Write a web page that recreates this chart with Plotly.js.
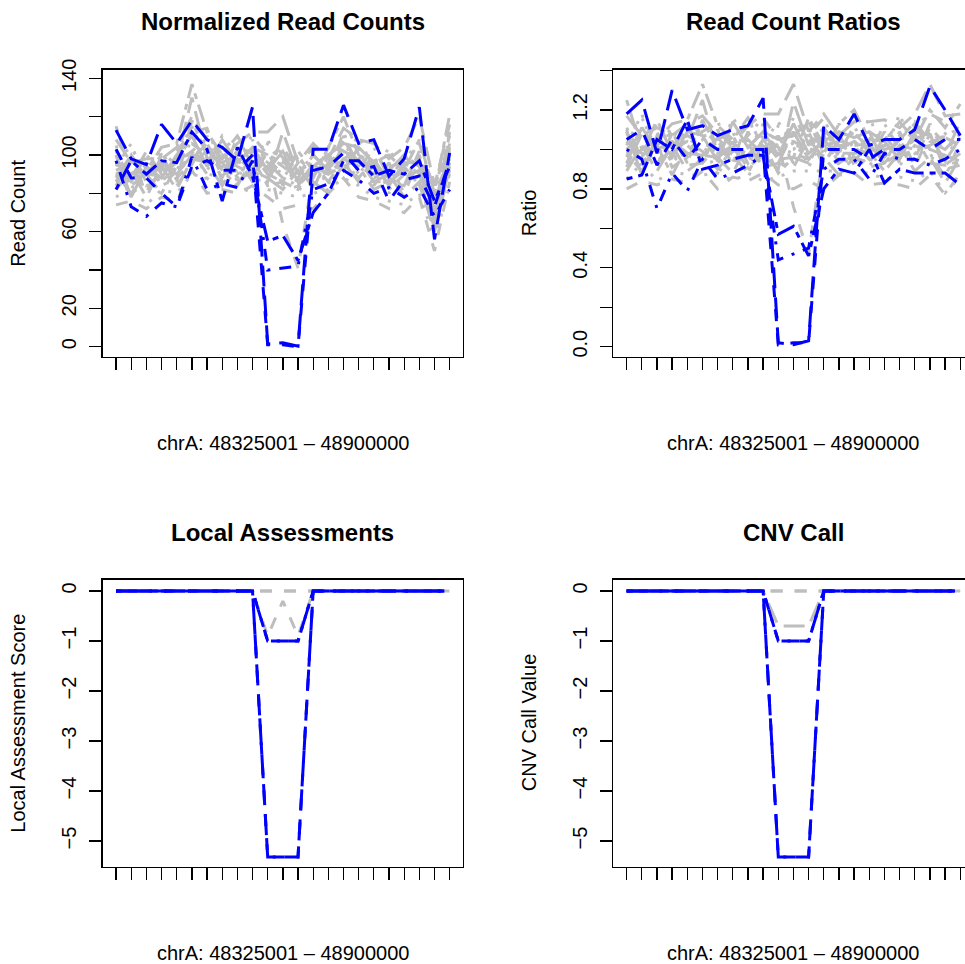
<!DOCTYPE html>
<html>
<head>
<meta charset="utf-8">
<script src="https://cdn.plot.ly/plotly-3.0.1.min.js"></script>
<style>
html,body{margin:0;padding:0;overflow:hidden;background:#fff;}
#plot{width:1000px;height:964px;}
</style>
</head>
<body>
<div id="plot"></div>
<script>
// ---------------- DATA ----------------
const BINS = [1,2,3,4,5,6,7,8,9,10,11,12,13,14,15,16,17,18,19,20,21,22,23];
const REGION_LABEL = "chrA: 48325001 \u2013 48900000";

// Normalized read counts, reference samples (grey)
const REF_COUNTS = [
  [105,82,96,85,100,115,92,104,86,108,90,100,80,96,84,110,90,100,80,96,84,78,108],
  [84,98,80,100,84,95,110,86,104,88,102,84,96,82,100,92,104,84,96,80,98,64,90],
  [96,88,102,90,96,130,98,96,100,92,86,112,90,100,92,104,96,90,92,100,90,70,112],
  [88,100,86,96,90,100,104,90,92,102,96,88,84,92,96,96,88,98,86,84,100,74,96],
  [115,90,92,104,106,137,112,100,110,96,100,96,100,88,104,120,100,96,100,92,108,80,121],
  [78,84,74,82,80,90,88,80,84,80,82,80,78,80,82,88,84,78,76,74,80,56,84],
  [92,96,88,94,98,106,100,98,94,90,98,64,41,90,94,102,98,92,90,88,92,76,100],
  [100,78,94,88,100,110,94,108,96,104,92,102,86,94,100,106,104,96,84,96,96,68,104],
  [82,92,78,94,82,98,96,84,98,86,88,82,92,86,80,96,86,86,90,78,86,60,94],
  [102,86,100,92,102,112,114,94,102,110,100,96,94,104,90,112,92,104,88,98,106,82,110],
  [90,80,90,80,94,98,106,92,84,98,84,86,82,96,86,98,94,82,86,94,84,66,92],
  [98,104,90,102,88,104,96,110,100,90,106,98,98,88,104,100,110,92,94,90,96,76,100],
  [74,76,72,78,76,92,80,82,80,84,78,72,74,72,80,88,78,76,72,70,78,50,86],
  [108,96,98,98,104,120,108,98,106,112,112,120,96,106,98,114,108,106,98,104,120,84,116],
  [94,106,84,88,92,108,86,100,90,98,108,92,86,98,88,92,100,90,104,86,92,78,98],
  [86,90,96,84,88,96,102,88,110,94,94,104,92,84,96,104,90,100,82,90,88,62,102],
  [100,84,90,100,86,118,100,102,88,100,90,86,102,92,90,98,102,88,92,100,94,72,106],
  [90,94,82,92,96,102,90,94,96,104,100,94,88,100,92,108,96,94,88,84,102,70,92],
  [96,86,94,86,94,112,104,90,92,96,96,90,94,90,98,100,86,98,94,96,90,74,100],
  [86,100,88,96,90,100,96,96,86,92,88,98,84,94,90,94,98,86,86,92,98,66,96]
];
// Normalized read counts, test samples (blue)
const TEST_COUNTS = [
  [113,98,95,116,106,118,108,104,97,125,1.5,2,0.3,103,103,126,106,108,89,98,125,56,101],
  [103,88,88,80,73,94,97,92,92,100,1,1,0,92,94,101,92,94,76,87,89,73,97],
  [97,73,68,75,73,99,82,85,83,97,40,41,42,82,85,92,87,80,83,78,83,68,82],
  [82,97,90,97,96,112,103,76,104,89,55,58,45,70,80,97,97,89,92,90,97,76,94]
];

// Read count ratios
const REF_RATIOS = [
  [1.10,0.90,1.08,0.93,1.08,1.10,0.92,1.09,0.90,1.13,0.94,1.10,0.91,1.06,0.92,1.10,0.95,1.08,0.91,1.08,0.93,1.08,1.10],
  [0.91,1.08,0.92,1.08,0.92,0.93,1.10,0.91,1.09,0.93,1.07,0.93,1.09,0.91,1.08,0.92,1.09,0.92,1.09,0.91,1.08,0.90,0.92],
  [1.04,0.98,1.15,0.98,1.05,1.25,0.98,1.01,1.05,0.97,0.90,1.24,1.02,1.11,1.00,1.04,1.01,0.98,1.05,1.13,1.00,0.97,1.14],
  [0.96,1.11,0.98,1.04,0.98,0.97,1.04,0.95,0.97,1.07,1.01,0.98,0.95,1.02,1.04,0.96,0.93,1.07,0.98,0.95,1.11,1.03,0.98],
  [1.25,1.00,1.05,1.13,1.15,1.33,1.12,1.05,1.16,1.01,1.05,1.07,1.14,0.98,1.13,1.20,1.05,1.04,1.14,1.05,1.20,1.11,1.23],
  [0.85,0.93,0.84,0.89,0.87,0.87,0.88,0.84,0.88,0.84,0.86,0.89,0.89,0.89,0.89,0.88,0.88,0.85,0.86,0.84,0.89,0.78,0.86],
  [1.00,1.07,1.00,1.02,1.07,1.03,1.00,1.03,0.99,0.95,1.03,0.71,0.47,1.00,1.02,1.02,1.03,1.00,1.02,1.00,1.02,1.06,1.02],
  [1.09,0.87,1.07,0.96,1.09,1.07,0.94,1.14,1.01,1.09,0.97,1.13,0.98,1.04,1.09,1.06,1.09,1.04,0.95,1.09,1.07,0.94,1.06],
  [0.89,1.02,0.89,1.02,0.89,0.95,0.96,0.88,1.03,0.91,0.93,0.91,1.05,0.96,0.87,0.96,0.91,0.93,1.02,0.89,0.96,0.83,0.96],
  [1.11,0.96,1.14,1.00,1.11,1.09,1.14,0.99,1.07,1.16,1.05,1.07,1.07,1.16,0.98,1.12,0.97,1.13,1.00,1.11,1.18,1.14,1.12],
  [0.98,0.89,1.02,0.87,1.02,0.95,1.06,0.97,0.88,1.03,0.88,0.96,0.93,1.07,0.93,0.98,0.99,0.89,0.98,1.07,0.93,0.92,0.94],
  [1.07,1.16,1.02,1.11,0.96,1.01,0.96,1.16,1.05,0.95,1.12,1.09,1.11,0.98,1.13,1.00,1.16,1.00,1.07,1.02,1.07,1.06,1.02],
  [0.80,0.84,0.82,0.85,0.83,0.89,0.80,0.86,0.84,0.88,0.82,0.80,0.84,0.80,0.87,0.88,0.82,0.83,0.82,0.80,0.87,0.77,0.88],
  [1.17,1.07,1.11,1.07,1.13,1.17,1.08,1.03,1.12,1.18,1.18,1.33,1.09,1.18,1.07,1.14,1.14,1.15,1.11,1.18,1.33,1.17,1.18],
  [1.02,1.18,0.95,0.96,1.00,1.05,0.86,1.05,0.95,1.03,1.14,1.02,0.98,1.09,0.96,0.92,1.05,0.98,1.18,0.98,1.02,1.08,1.00],
  [0.93,1.00,1.09,0.91,0.96,0.93,1.02,0.93,1.16,0.99,0.99,1.16,1.05,0.93,1.04,1.04,0.95,1.09,0.93,1.02,0.98,0.86,1.04],
  [1.09,0.93,1.02,1.09,0.93,1.15,1.00,1.07,0.93,1.05,0.95,0.96,1.16,1.02,0.98,0.98,1.07,0.96,1.05,1.14,1.04,1.00,1.08],
  [0.98,1.04,0.93,1.00,1.04,0.99,0.90,0.99,1.01,1.09,1.05,1.04,1.00,1.11,1.00,1.08,1.01,1.02,1.00,0.95,1.13,0.97,0.94],
  [1.04,0.96,1.07,0.93,1.02,1.09,1.04,0.95,0.97,1.01,1.01,1.00,1.07,1.00,1.07,1.00,0.91,1.07,1.07,1.09,1.00,1.03,1.02],
  [0.93,1.11,1.00,1.04,0.98,0.97,0.96,1.01,0.91,0.97,0.93,1.09,0.95,1.04,0.98,0.94,1.03,0.93,0.98,1.05,1.09,0.92,0.98]
];
const TEST_RATIOS = [
  [1.18,1.25,0.98,1.30,1.10,1.12,1.07,1.10,1.12,1.26,0.02,0.01,0.03,1.12,1.05,1.18,1.02,1.05,1.05,1.10,1.32,1.20,1.07],
  [1.05,1.10,0.92,1.05,0.95,1.05,1.00,1.00,1.00,1.00,0.01,0.02,0.02,1.00,1.00,1.00,0.95,1.00,1.00,1.05,1.00,1.05,1.05],
  [1.00,0.95,0.70,0.88,0.79,0.95,0.85,0.88,0.92,0.97,0.44,0.47,0.50,0.90,0.95,0.95,0.85,0.98,0.95,0.95,0.92,0.95,1.00],
  [0.85,0.87,1.05,1.00,1.15,0.90,0.92,0.95,0.97,0.97,0.57,0.61,0.46,0.80,0.90,0.88,1.00,0.83,0.90,0.88,0.88,0.88,0.82]
];

// Local assessment scores
const REF_LA = [
  [0,0,0,0,0,0,0,0,0,0,0,0,0,0,0,0,0,0,0,0,0,0,0],
  [0,0,0,0,0,0,0,0,0,0,0,0,0,0,0,0,0,0,0,0,0,0,0],
  [0,0,0,0,0,0,0,0,0,0,-0.9,-0.2,-0.9,0,0,0,0,0,0,0,0,0,0]
];
const TEST_LA = [
  [0,0,0,0,0,0,0,0,0,0,-5.32,-5.32,-5.32,0,0,0,0,0,0,0,0,0,0],
  [0,0,0,0,0,0,0,0,0,0,-5.32,-5.32,-5.32,0,0,0,0,0,0,0,0,0,0],
  [0,0,0,0,0,0,0,0,0,0,-1,-1,-1,0,0,0,0,0,0,0,0,0,0],
  [0,0,0,0,0,0,0,0,0,0,-1,-1,-1,0,0,0,0,0,0,0,0,0,0]
];

// CNV call values
const REF_CNV = [
  [0,0,0,0,0,0,0,0,0,0,0,0,0,0,0,0,0,0,0,0,0,0,0],
  [0,0,0,0,0,0,0,0,0,0,0,0,0,0,0,0,0,0,0,0,0,0,0],
  [0,0,0,0,0,0,0,0,0,0,-0.7,-0.7,-0.7,0,0,0,0,0,0,0,0,0,0]
];
const TEST_CNV = [
  [0,0,0,0,0,0,0,0,0,0,-5.32,-5.32,-5.32,0,0,0,0,0,0,0,0,0,0],
  [0,0,0,0,0,0,0,0,0,0,-5.32,-5.32,-5.32,0,0,0,0,0,0,0,0,0,0],
  [0,0,0,0,0,0,0,0,0,0,-1,-1,-1,0,0,0,0,0,0,0,0,0,0],
  [0,0,0,0,0,0,0,0,0,0,-1,-1,-1,0,0,0,0,0,0,0,0,0,0]
];

const PANEL_TITLES = ["Normalized Read Counts","Read Count Ratios","Local Assessments","CNV Call"];
const Y_TITLES = ["Read Count","Ratio","Local Assessment Score","CNV Call Value"];
const COUNT_TICKS = [0,20,40,60,80,100,120,140];
const COUNT_TICKTEXT = ["0","20","","60","","100","","140"];
const RATIO_TICKS = [0,0.2,0.4,0.6,0.8,1.0,1.2,1.4];
const RATIO_TICKTEXT = ["0.0","","0.4","","0.8","","1.2",""];
const SCORE_TICKS = [0,-1,-2,-3,-4,-5];
const SCORE_TICKTEXT = ["0","\u22121","\u22122","\u22123","\u22124","\u22125"];

// ---------------- STYLE ----------------
const W = 1000, H = 964;
const GREY = "#BEBEBE", BLUE = "#0000FF";
const LW = 3;
// R-like line types scaled by line width
const LTY = ["solid","12px,12px","3px,9px","3px,9px,12px,9px","21px,9px","6px,6px,18px,6px"];
const GREY_LTY = [2,1,4,3,5,2,1,0,4,3,5,2,1,4,2,3,5,1,2,4];
const BLUE_LTY = [4,1,3,5];

const FONT = "Liberation Sans, Arial, Helvetica, sans-serif";

// panel boxes in pixels: [left, right, top, bottom]
const BOXES = [
  [102.7, 463.0, 69.7, 356.7],
  [613.3, 973.6, 69.7, 356.7],
  [102.7, 463.0, 579.7, 866.7],
  [613.3, 973.6, 579.7, 866.7]
];

const traces = [];
function addSet(series, color, ltyIdx, axisN){
  series.forEach((s,i)=>{
    traces.push({
      x: BINS, y: s, type:"scatter", mode:"lines",
      xaxis: axisN===1?"x":"x"+axisN, yaxis: axisN===1?"y":"y"+axisN,
      line:{color:color, width:LW, dash:LTY[ltyIdx[i % ltyIdx.length]]},
      hoverinfo:"skip", showlegend:false
    });
  });
}
addSet(REF_COUNTS, GREY, GREY_LTY, 1);
addSet(TEST_COUNTS, BLUE, BLUE_LTY, 1);
addSet(REF_RATIOS, GREY, GREY_LTY, 2);
addSet(TEST_RATIOS, BLUE, BLUE_LTY, 2);
addSet(REF_LA, GREY, [1,1,1], 3);
addSet(TEST_LA, BLUE, BLUE_LTY, 3);
addSet(REF_CNV, GREY, [1,1,4], 4);
addSet(TEST_CNV, BLUE, BLUE_LTY, 4);

function xax(b, n){
  return {
    anchor: n===1?"y":"y"+n,
    domain:[b[0]/W, b[1]/W], range:[0.12, 23.88], tickmode:"array", tickvals:BINS,
    ticks:"outside", ticklen:12, tickwidth:1.3, tickcolor:"#000",
    showticklabels:false, showline:true, mirror:true, linecolor:"#000", linewidth:1.3,
    showgrid:false, zeroline:false, fixedrange:true
  };
}
function yax(b, n, range, tv, tt){
  return {
    anchor: n===1?"x":"x"+n,
    domain:[1-b[3]/H, 1-b[2]/H], range:range, tickmode:"array", tickvals:tv, ticktext:tt,
    ticks:"outside", ticklen:12, tickwidth:1.3, tickcolor:"#000", tickangle:-90,
    ticklabelstandoff:5,
    tickfont:{family:FONT, size:20, color:"#000"},
    showline:true, mirror:true, linecolor:"#000", linewidth:1.3,
    showgrid:false, zeroline:false, fixedrange:true
  };
}

const annotations = [];
const TITLE_Y = [21, 21, 532, 532];
const XLAB_Y = [443, 443, 953, 953];
const YLAB_X = [18.5, 529, 18.5, 529];
BOXES.forEach((b,i)=>{
  const cx = (b[0]+b[1])/2/W;
  annotations.push({xref:"paper", yref:"paper", x:cx, y:1-TITLE_Y[i]/H, xanchor:"center", yanchor:"middle",
    text:"<b>"+PANEL_TITLES[i]+"</b>", showarrow:false, font:{family:FONT, size:24, color:"#000"}});
  annotations.push({xref:"paper", yref:"paper", x:cx, y:1-XLAB_Y[i]/H, xanchor:"center", yanchor:"middle",
    text:REGION_LABEL, showarrow:false, font:{family:FONT, size:20, color:"#000"}});
  annotations.push({xref:"paper", yref:"paper", x:YLAB_X[i]/W, y:1-(b[2]+b[3])/2/H, xanchor:"center", yanchor:"middle",
    text:Y_TITLES[i], textangle:-90, showarrow:false, font:{family:FONT, size:20, color:"#000"}});
});

const layout = {
  width:W, height:H, margin:{l:0,r:0,t:0,b:0},
  paper_bgcolor:"#fff", plot_bgcolor:"#fff", showlegend:false,
  font:{family:FONT, color:"#000"},
  xaxis:xax(BOXES[0],1), xaxis2:xax(BOXES[1],2), xaxis3:xax(BOXES[2],3), xaxis4:xax(BOXES[3],4),
  yaxis:yax(BOXES[0],1, [-5.22,144.5], COUNT_TICKS, COUNT_TICKTEXT),
  yaxis2:yax(BOXES[1],2, [-0.0507,1.404], RATIO_TICKS, RATIO_TICKTEXT),
  yaxis3:yax(BOXES[2],3, [-5.513,0.226], SCORE_TICKS, SCORE_TICKTEXT),
  yaxis4:yax(BOXES[3],4, [-5.513,0.226], SCORE_TICKS, SCORE_TICKTEXT),
  annotations:annotations
};
Plotly.newPlot("plot", traces, layout, {displayModeBar:false, staticPlot:true});
</script>
</body>
</html>
